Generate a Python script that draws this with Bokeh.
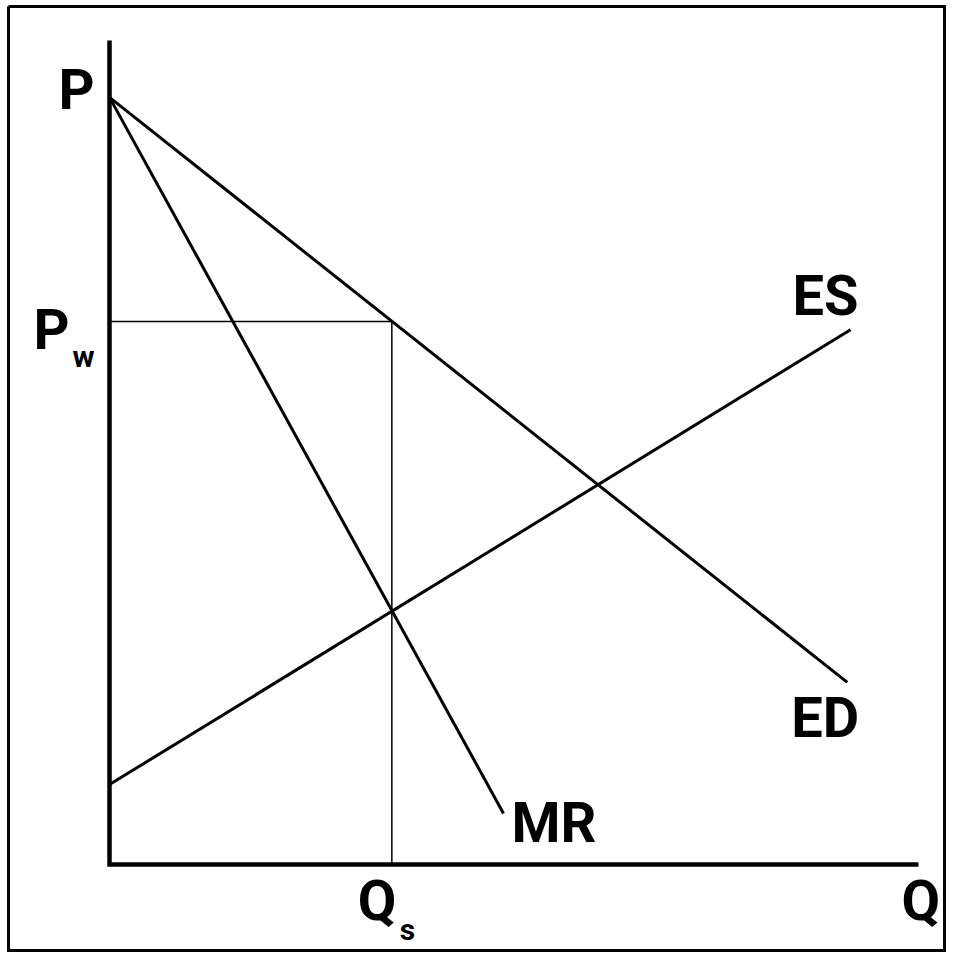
from bokeh.plotting import figure
from bokeh.models import Range1d
from bokeh.core.properties import value
from bokeh.embed import file_html
from bokeh.resources import INLINE

# ---- data (abstract units: axis lengths = 100) ----
axis_q_max = 100.0
axis_p_max = 100.0
p_choke = 93.1          # "P"
p_world = 65.9          # "P_w"
q_s = 34.9              # "Q_s"

ed_q = [0.0, 91.2]
ed_p = [93.1, 22.1]
mr_q = [0.0, 48.7]
mr_p = [93.1, 6.2]
es_q = [0.0, 91.6]
es_p = [9.7, 64.9]

# ---- layout ----
W, H = 946, 952
KX, KY = 8.09, 8.24     # px per unit
OX, OY = 109, 864       # origin pixel inside the canvas
x0 = -OX / KX
x1 = (W - OX) / KX
y0 = -(H - OY) / KY
y1 = OY / KY

p = figure(width=W, height=H, output_backend="svg", toolbar_location=None,
           x_range=Range1d(x0, x1), y_range=Range1d(y0, y1),
           x_axis_type=None, y_axis_type=None, min_border=0)
p.outline_line_color = None
p.background_fill_color = "white"
p.border_fill_color = "white"

def dx(px):
    return px / KX

def dy(px):
    return -px / KY

def sx(px):   # canvas pixel -> data x
    return (px - OX) / KX

def sy(py):   # canvas pixel -> data y
    return (OY - py) / KY

# decorative frame around the figure
fl, fr, ft, fb = sx(8), sx(944), sy(6), sy(950)
p.line([fl, fr, fr, fl, fl], [ft, ft, fb, fb, ft], line_color="black",
       line_width=3, line_join="miter")

# axes
p.line([0, 0, axis_q_max], [axis_p_max, 0, 0], line_color="black",
       line_width=4.5, line_join="miter")

# world price / quantity guide lines
p.line([0, q_s, q_s], [p_world, p_world, 0], line_color="black", line_width=1.5)

# curves
for qs, ps in [(ed_q, ed_p), (mr_q, mr_p), (es_q, es_p)]:
    p.line(qs, ps, line_color="black", line_width=3)

font = value("Roboto")
BIG, SMALL = 56, 30
SHIFT = 0.36            # rendered baseline sits this many em lower

def label(x, y, t, size=BIG, align="left"):
    y = y + SHIFT * size / KY
    p.text(x=[x], y=[y], text=[t], text_font=font, text_font_style="bold",
           text_font_size=f"{size}px", text_align=align,
           text_baseline="alphabetic", text_color="black")

# P on the vertical axis
label(dx(-15), p_choke + dy(13), "P", align="right")
# P_w
label(dx(-40), p_world + dy(29), "P", align="right")
label(dx(-37), p_world + dy(46), "w", size=SMALL)
# curve labels
label(es_q[1] + dx(-58), es_p[1] + dy(-14), "ES")
label(ed_q[1] + dx(-56), ed_p[1] + dy(56), "ED")
label(mr_q[1] + dx(8), mr_p[1] + dy(30), "MR")
# Q_s and Q
label(q_s + dx(-34), dy(57), "Q")
label(q_s + dx(8), dy(76), "s", size=SMALL)
label(axis_q_max + dx(-17), dy(57), "Q")

open("out.html", "w").write(file_html(p, INLINE))
